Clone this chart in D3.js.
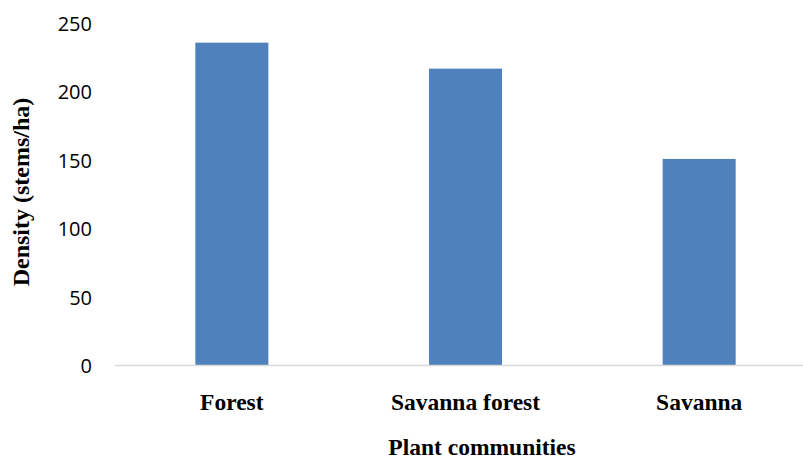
<!DOCTYPE html>
<html>
<head>
<meta charset="utf-8">
<script src="https://cdn.jsdelivr.net/npm/d3@7"></script>
<style>
  html, body { margin: 0; padding: 0; background: #fff; }
  svg { display: block; }
</style>
</head>
<body>
<svg id="chart" width="803" height="460"></svg>
<script>
// Stem density by plant community
const categories = ["Forest", "Savanna forest", "Savanna"];
const densities = [236, 217, 151];
const yTicks = [0, 50, 100, 150, 200, 250];

const svg = d3.select("#chart");

const x = d3.scaleBand()
  .domain(categories)
  .range([115, 816])
  .paddingInner(0.6875)
  .paddingOuter(0.34375);

const y = d3.scaleLinear()
  .domain([0, 250])
  .range([365.5, 23.5]);

// Bars
svg.append("g")
  .selectAll("rect")
  .data(categories)
  .join("rect")
  .attr("x", d => x(d))
  .attr("width", x.bandwidth())
  .attr("y", (d, i) => y(densities[i]))
  .attr("height", (d, i) => y(0) - y(densities[i]))
  .attr("fill", "#4F81BD");

// Baseline (category axis line)
svg.append("line")
  .attr("x1", 115).attr("x2", 816)
  .attr("y1", y(0)).attr("y2", y(0))
  .attr("stroke", "#D9D9D9")
  .attr("stroke-width", 1.5);

// Value axis labels
const yAxis = d3.axisLeft(y).tickValues(yTicks).tickSize(0).tickPadding(0);
const gy = svg.append("g")
  .attr("transform", "translate(92,0)")
  .call(yAxis);
gy.select(".domain").remove();
gy.selectAll("text")
  .attr("font-family", "'Open Sans', sans-serif")
  .attr("font-size", 20)
  .attr("fill", "#000")
  .attr("dy", "0.35em");

// Category labels
const xAxis = d3.axisBottom(x).tickSize(0).tickPadding(0);
const gx = svg.append("g")
  .attr("transform", "translate(0,410)")
  .call(xAxis);
gx.select(".domain").remove();
gx.selectAll("text")
  .attr("font-family", "'Liberation Serif', 'Times New Roman', serif")
  .attr("font-weight", "bold")
  .attr("font-size", 23.5)
  .attr("fill", "#000")
  .attr("dy", 0)
  .attr("y", 0);

// Axis titles
svg.append("text")
  .attr("x", 482).attr("y", 455)
  .attr("text-anchor", "middle")
  .attr("font-family", "'Liberation Serif', 'Times New Roman', serif")
  .attr("font-weight", "bold")
  .attr("font-size", 23.5)
  .text("Plant communities");

svg.append("text")
  .attr("transform", "translate(29,192) rotate(-90)")
  .attr("text-anchor", "middle")
  .attr("font-family", "'Liberation Serif', 'Times New Roman', serif")
  .attr("font-weight", "bold")
  .attr("font-size", 24)
  .text("Density (stems/ha)");
</script>
</body>
</html>
